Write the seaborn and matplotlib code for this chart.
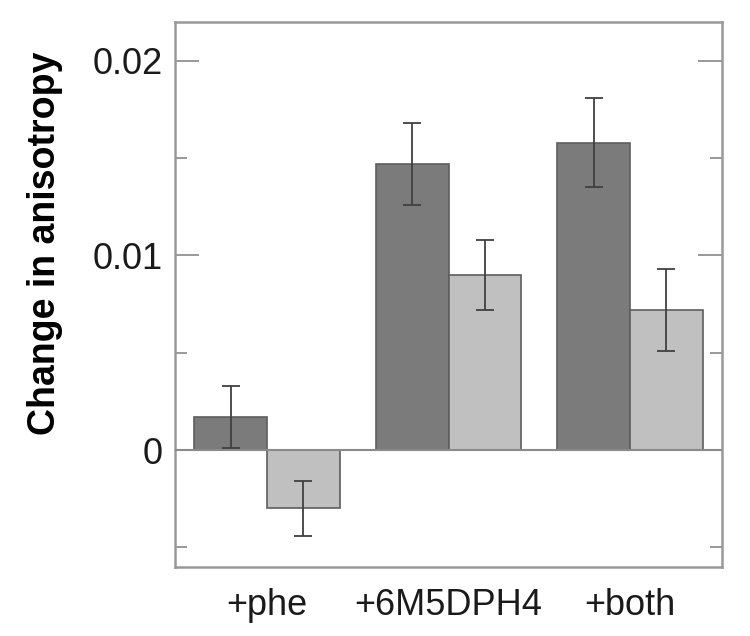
import pandas as pd
import matplotlib
matplotlib.use('Agg')
import matplotlib.pyplot as plt
import seaborn as sns

# values
conditions = ['+phe', '+6M5DPH4', '+both']
series = ['dark', 'light']
dark_vals = [0.0017, 0.0147, 0.0158]
dark_err = [0.0016, 0.0021, 0.0023]
light_vals = [-0.0030, 0.0090, 0.0072]
light_err = [0.0014, 0.0018, 0.0021]
ytick_vals = [0, 0.01, 0.02]
ytick_labels = ['0', '0.01', '0.02']
yminor_vals = [-0.005, 0.005, 0.015]

df = pd.DataFrame({
    'condition': conditions * 2,
    'series': ['dark'] * 3 + ['light'] * 3,
    'value': dark_vals + light_vals,
})
errs = {'dark': dark_err, 'light': light_err}

sns.set_style('white')
plt.rcParams['font.family'] = ['Liberation Sans', 'DejaVu Sans']
plt.rcParams['text.color'] = '#1a1a1a'
plt.rcParams['xtick.labelcolor'] = '#1a1a1a'
plt.rcParams['ytick.labelcolor'] = '#1a1a1a'

fig = plt.figure(figsize=(7.5, 6.36), dpi=100)
ax = fig.add_axes([0.2333, 0.1085, 0.7294, 0.857])

sns.barplot(data=df, x='condition', y='value', hue='series', order=conditions,
            hue_order=series, palette=['#7b7b7b', '#c0c0c0'], width=0.8,
            edgecolor='#5e5e5e', linewidth=1.2, errorbar=None, legend=False, ax=ax)

for cont, s in zip(ax.containers, series):
    xs = [p.get_x() + p.get_width() / 2 for p in cont]
    ax.errorbar(xs, [p.get_height() for p in cont], yerr=errs[s], fmt='none',
                ecolor='#404040', elinewidth=1.3, capsize=6.5, capthick=1.3, zorder=5)

ax.axhline(0, color='#8a8a8a', linewidth=1.5, zorder=4)

ax.set_xlim(-0.507, 2.507)
ax.set_ylim(-0.00601, 0.022)
ax.set_yticks(ytick_vals)
ax.set_yticklabels(ytick_labels)
ax.set_yticks(yminor_vals, minor=True)

for sp in ax.spines.values():
    sp.set_color('#999999')
    sp.set_linewidth(1.8)

ax.tick_params(axis='y', which='major', direction='in', length=17, width=1.4,
               color='#999999', labelsize=26, pad=9, right=True, left=True)
ax.tick_params(axis='y', which='minor', direction='in', length=8.5, width=1.4,
               color='#999999', right=True, left=True)
ax.tick_params(axis='x', length=0, labelsize=26, pad=15)

ax.set_xlabel('')
ax.set_ylabel('Change in anisotropy', fontsize=27, fontweight='bold', color='black')
ax.yaxis.set_label_coords(-0.205, 0.593)

plt.savefig('out.png', dpi=100)
